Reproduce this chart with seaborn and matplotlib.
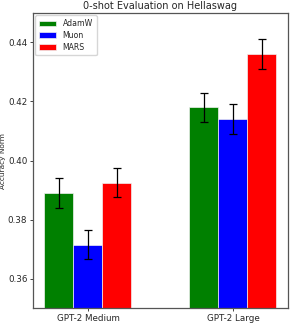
import matplotlib
matplotlib.use("Agg")
import matplotlib.pyplot as plt
import seaborn as sns
import pandas as pd
import numpy as np

models = ["GPT-2 Medium", "GPT-2 Large"]
optimizers = ["AdamW", "Muon", "MARS"]
adamw = [0.389, 0.418]
muon = [0.3715, 0.414]
mars = [0.3925, 0.436]
adamw_err = [0.005, 0.005]
muon_err = [0.005, 0.005]
mars_err = [0.005, 0.005]
colors = ["green", "blue", "red"]

rows = []
for opt, vals, errs in zip(optimizers, [adamw, muon, mars], [adamw_err, muon_err, mars_err]):
    for m, v, e in zip(models, vals, errs):
        rows.append({"model": m, "optimizer": opt, "acc": v, "err": e})
df = pd.DataFrame(rows)

sns.set_style("white")
plt.rcParams['font.family'] = ['DejaVu Sans']
fig, ax = plt.subplots(figsize=(2.91, 3.23), dpi=100)
sns.barplot(data=df, x="model", y="acc", hue="optimizer", hue_order=optimizers,
            order=models, palette=colors, width=0.6, errorbar=None,
            edgecolor="#f0f0f0", linewidth=0.5, saturation=1, ax=ax)

# error bars at bar centres
for container, opt in zip(ax.containers, optimizers):
    sub = df[df.optimizer == opt].set_index("model").loc[models]
    xs = [p.get_x() + p.get_width() / 2 for p in container.patches]
    ax.errorbar(xs, sub["acc"].values, yerr=sub["err"].values, fmt="none",
                ecolor="black", elinewidth=0.9, capsize=3, capthick=0.9)

ax.set_ylim(0.35, 0.45)
ax.set_xlim(-0.38, 1.38)
ax.set_yticks([0.36, 0.38, 0.40, 0.42, 0.44])
ax.set_yticklabels(["0.36", "0.38", "0.40", "0.42", "0.44"])
ax.set_xlabel("")
ax.set_ylabel("Accuracy Norm", fontsize=5.3)
ax.yaxis.set_label_coords(-0.105, 0.5)
ax.set_title("0-shot Evaluation on Hellaswag", fontsize=7, pad=3)
ax.tick_params(axis="both", labelsize=6.3, length=2.5, width=0.6, pad=1.5,
               left=True, bottom=True)
for s in ax.spines.values():
    s.set_linewidth(0.9)
    s.set_color("#555555")
leg = ax.legend(loc="upper left", fontsize=5.6, title=None, frameon=True,
                handlelength=2.2, borderpad=0.5, labelspacing=0.35,
                borderaxespad=0.3)
fig.subplots_adjust(left=0.113, right=0.99, top=0.96, bottom=0.046)
fig.savefig("out.png", dpi=100)
